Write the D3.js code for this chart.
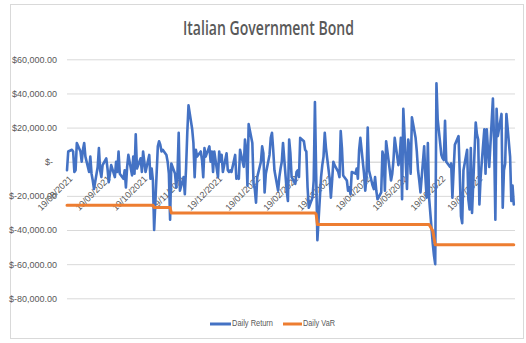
<!DOCTYPE html>
<html>
<head>
<meta charset="utf-8">
<script src="https://cdn.jsdelivr.net/npm/d3@7"></script>
<style>
  html, body { margin: 0; padding: 0; background: #fff; }
  svg { display: block; }
</style>
</head>
<body>
<script>
// ---------------- DATA ----------------
const chartTitle = "Italian Government Bond";
const seriesNames = ["Daily Return", "Daily VaR"];
const firstTradingDay = "2021-08-19";
const axisEndDate = "2022-08-19";

// x-axis tick labels (monthly)
const xTickLabels = ["19/08/2021","19/09/2021","19/10/2021","19/11/2021","19/12/2021","19/01/2022",
  "19/02/2022","19/03/2022","19/04/2022","19/05/2022","19/06/2022","19/07/2022"];

// y-axis ticks and labels
const yTickValues = [60000, 40000, 20000, 0, -20000, -40000, -60000, -80000];
const yTickLabels = ["$60,000.00","$40,000.00","$20,000.00","$-","$-20,000.00","$-40,000.00","$-60,000.00","$-80,000.00"];

// Daily return, one value per trading day
const dailyReturn = [
  -5000, 6000, 7000, 6000, -6000, -5000, 11000, 6000, 0, 7000,
  11000, 3000, -6000, 3000, -7000, -11000, -16000, -3000, 8000, -5000,
  -9000, -2000, 2000, -4000, -12000, -7000, -2000, -9000, 0, -6000,
  6000, -7000, -10000, -5000, -15000, -3000, 4000, -8000, 3000, -7000,
  16000, -4000, 2000, -6000, 6000, 0, -6000, 4000, -10000, -4000,
  -11000, -40000, 9000, 12000, 10000, 6000, 7000, 4000, 0, -7000,
  -34000, -1000,
  -7000, -15000, -7000, 17000, -17000, -9000, -19000, -4000, 17000, 33000,
  19000, 11000, -9000, 7000, 3000, 6000, 1000, -9000, 8000, 3000,
  9000, 0, 6000, -6000, 6000, -9000, 6000, 0, 4000, -6000,
  5000, -5000, -6000, -5000, -6000, 4000, -10000, -9000, -10000, 7000,
  -3000, 13000, 7000, -14000, 22000, 11000, -13000, -16000, -24000, -9000,
  0, 9000, 5000, -18000, -7000, 4000, 14000, 17000, 7000, -5000,
  -17000, -9000, -4000, 0, 11000, -17000, -23000,
  13000, 5000, -9000, -13000, -6000, -5000, -9000, 14000, 12000, 7000,
  6000, -15000, -27000, -21000, -11000, 35000, -7000, -46000, -9000, -2000,
  3000, 17000, 8000, -10000, -21000, -11000, 0, -2000, -6000, -9000,
  18000, 8000, -8000, -11000, -17000, -15000, -19000, -6000, -7000, -4000,
  -10000, 7000, 14000, -7000, -17000, -9000, 20000, -5000, -14000, -16000,
  -9000, -17000, -22000, -18000, 6000, 3000, -17000, 12000, -5000, -11000,
  -7000, 1000, 14000, -2000,
  2000, 14000, -22000, 31000, -16000, 13000, 8000, -7000, 26000, 14000,
  6000, -5000, -11000, -18000, 9000, -9000, -21000, 11000, -21000, -48000,
  -55000, -60000, 46000, 25000, 4000, 2000, 1000, 24000, 0, -3000,
  -1000, -21000, -5000, 10000, 15000, -7000, -32000, -36000, -5000, 7000,
  -22000, -28000, 8000, -30000, 23000, 16000, 13000, -25000, -9000, 19000,
  -7000, 19000, 7000, -3000, 37000, 11000, -34000, 31000, 15000, 28000,
  -27000, -5000, -1000, 28000, 3000, -23000, -14000, -25000
];

// Daily VaR, one value per trading day
const dailyVaR = [
  -25500,-25500,-25500,-25500,-25500,-25500,-25500,-25500,-25500,-25500,
  -25500,-25500,-25500,-25500,-25500,-25500,-25500,-25500,-25500,-25500,
  -25500,-25500,-25500,-25500,-25500,-25500,-25500,-25500,-25500,-25500,
  -25500,-25500,-25500,-25500,-25500,-25500,-25500,-25500,-25500,-25500,
  -25500,-25500,-25500,-25500,-25500,-25500,-25500,-25500,-25500,-25500,
  -25500,
  -26800,-26800,-26800,-26800,-26800,-26800,-26800,-26800,-26800,-26800,
  -30000,-30000,-30000,-30000,-30000,-30000,-30000,-30000,-30000,-30000,
  -30000,-30000,-30000,-30000,-30000,-30000,-30000,-30000,-30000,-30000,
  -30000,-30000,-30000,-30000,-30000,-30000,-30000,-30000,-30000,-30000,
  -30000,-30000,-30000,-30000,-30000,-30000,-30000,-30000,-30000,-30000,
  -30000,-30000,-30000,-30000,-30000,-30000,-30000,-30000,-30000,-30000,
  -30000,-30000,-30000,-30000,-30000,-30000,-30000,-30000,-30000,-30000,
  -30000,-30000,-30000,-30000,-30000,-30000,-30000,-30000,-30000,-30000,
  -30000,-30000,-30000,-30000,-30000,-30000,-30000,-30000,-30000,-30000,
  -30000,-30000,-30000,-30000,
  -30800,
  -36800,-36800,-36800,-36800,-36800,-36800,-36800,-36800,-36800,-36800,
  -36800,-36800,-36800,-36800,-36800,-36800,-36800,-36800,-36800,-36800,
  -36800,-36800,-36800,-36800,-36800,-36800,-36800,-36800,-36800,-36800,
  -36800,-36800,-36800,-36800,-36800,-36800,-36800,-36800,-36800,-36800,
  -36800,-36800,-36800,-36800,-36800,-36800,-36800,-36800,-36800,-36800,
  -36800,-36800,-36800,-36800,-36800,-36800,-36800,-36800,-36800,-36800,
  -36800,-36800,-36800,-36800,-36800,-36800,
  -40500, -44500,
  -48600,-48600,-48600,-48600,-48600,-48600,-48600,-48600,-48600,-48600,
  -48600,-48600,-48600,-48600,-48600,-48600,-48600,-48600,-48600,-48600,
  -48600,-48600,-48600,-48600,-48600,-48600,-48600,-48600,-48600,-48600,
  -48600,-48600,-48600,-48600,-48600,-48600,-48600,-48600,-48600,-48600,
  -48600,-48600,-48600,-48600,-48600,-48600,-48600
];

// ---------------- CHART ----------------
const W = 526, H = 343;
const plot = { left: 67, right: 515, top: 59.3, bottom: 298.3 };
const grey = "#595959", gridGrey = "#d9d9d9";
const fontFam = "'Liberation Sans', Arial, sans-serif";

// trading days (weekdays) starting at the first trading day
const parseISO = d3.timeParse("%Y-%m-%d");
const n = Math.min(dailyReturn.length, dailyVaR.length);
const tradingDays = [];
let d = parseISO(firstTradingDay);
while (tradingDays.length < n) {
  const wd = d.getDay();
  if (wd !== 0 && wd !== 6) tradingDays.push(new Date(d));
  d = d3.timeDay.offset(d, 1);
}
const rows = tradingDays.map((dt, i) => ({ date: dt, ret: dailyReturn[i], vaR: dailyVaR[i] }));

const parseTick = d3.timeParse("%d/%m/%Y");
const xTickDates = xTickLabels.map(parseTick);

const x = d3.scaleTime()
  .domain([parseISO(firstTradingDay), parseISO(axisEndDate)])
  .range([plot.left, plot.right]);
const y = d3.scaleLinear()
  .domain([-80000, 60000])
  .range([plot.bottom, plot.top]);

const svg = d3.select("body").append("svg")
  .attr("width", W).attr("height", H)
  .style("font-family", fontFam);

svg.append("rect").attr("x", 0).attr("y", 0).attr("width", W).attr("height", H).attr("fill", "#fff");
svg.append("rect")
  .attr("x", 10.5).attr("y", 4.5).attr("width", 513).attr("height", 334)
  .attr("fill", "#fff").attr("stroke", gridGrey).attr("stroke-width", 1);

// title
svg.append("text")
  .attr("x", 268.5).attr("y", 34.5)
  .attr("text-anchor", "middle")
  .attr("font-family", "'Open Sans', sans-serif")
  .attr("font-weight", 600)
  .attr("font-size", 19)
  .attr("fill", grey)
  .attr("textLength", 171)
  .attr("lengthAdjust", "spacingAndGlyphs")
  .text(chartTitle);

// y axis with gridlines
const yAxis = d3.axisLeft(y)
  .tickValues(yTickValues)
  .tickSize(-(plot.right - plot.left))
  .tickPadding(10)
  .tickFormat((v, i) => yTickLabels[i]);
const gy = svg.append("g").attr("transform", `translate(${plot.left},0)`).call(yAxis);
gy.select(".domain").remove();
gy.selectAll(".tick line").attr("stroke", gridGrey).attr("stroke-width", 1);
gy.selectAll(".tick text")
  .attr("fill", grey)
  .attr("font-size", 9)
  .attr("font-family", fontFam)
  .attr("dx", (v) => v === 0 ? -4 : 0);

// x axis at zero
const xAxis = d3.axisBottom(x)
  .tickValues(xTickDates)
  .tickSize(0)
  .tickFormat((v, i) => xTickLabels[i]);
const gx = svg.append("g").attr("transform", `translate(0,${y(0)})`).call(xAxis);
gx.select(".domain").attr("stroke", gridGrey).attr("stroke-width", 1);
gx.selectAll(".tick text")
  .attr("fill", grey)
  .attr("font-size", 9)
  .attr("font-family", fontFam)
  .attr("x", 0).attr("y", 0).attr("dy", null)
  .attr("dominant-baseline", "middle")
  .attr("text-anchor", "end")
  .attr("transform", "translate(3.8,16) rotate(-45)");

// series
const lineRet = d3.line().x(r => x(r.date)).y(r => y(r.ret));
const lineVaR = d3.line().x(r => x(r.date)).y(r => y(r.vaR));

svg.append("path").datum(rows)
  .attr("d", lineRet)
  .attr("fill", "none")
  .attr("stroke", "#4472C4")
  .attr("stroke-width", 2.6)
  .attr("stroke-linejoin", "round")
  .attr("stroke-linecap", "round");

svg.append("path").datum(rows)
  .attr("d", lineVaR)
  .attr("fill", "none")
  .attr("stroke", "#ED7D31")
  .attr("stroke-width", 3)
  .attr("stroke-linejoin", "round")
  .attr("stroke-linecap", "round");

// legend
const legendItems = [
  { name: seriesNames[0], color: "#4472C4", x0: 210, x1: 231, tx: 232, tl: 41 },
  { name: seriesNames[1], color: "#ED7D31", x0: 283, x1: 302, tx: 303, tl: 32 }
];
const lg = svg.append("g");
legendItems.forEach(it => {
  lg.append("line").attr("x1", it.x0).attr("x2", it.x1).attr("y1", 324).attr("y2", 324)
    .attr("stroke", it.color).attr("stroke-width", 3);
  lg.append("text").attr("x", it.tx).attr("y", 324)
    .attr("dominant-baseline", "middle")
    .attr("font-size", 9).attr("fill", grey)
    .attr("textLength", it.tl).attr("lengthAdjust", "spacingAndGlyphs")
    .text(it.name);
});
</script>
</body>
</html>
